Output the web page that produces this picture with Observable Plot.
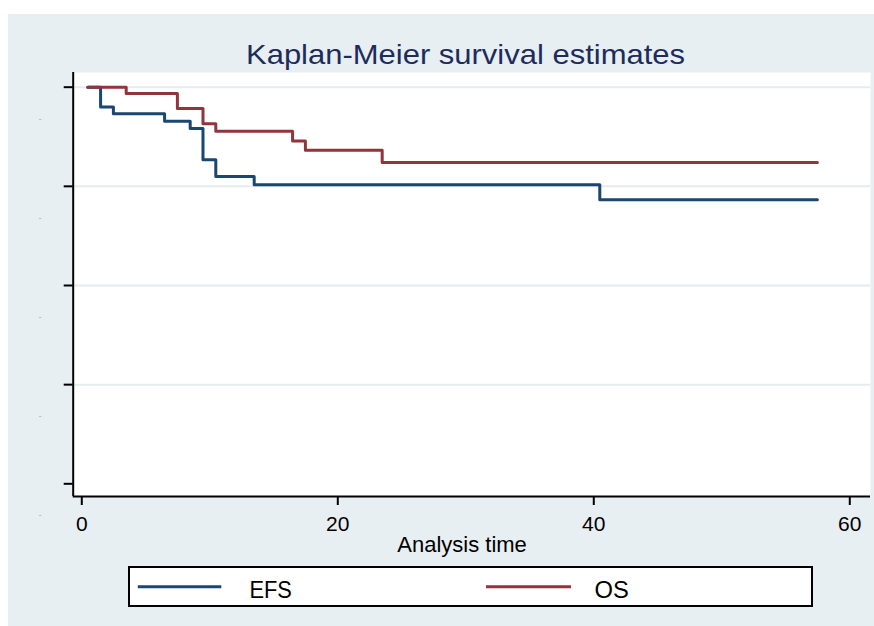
<!DOCTYPE html>
<html>
<head>
<meta charset="utf-8">
<script src="https://cdn.jsdelivr.net/npm/d3@7"></script>
<script src="https://cdn.jsdelivr.net/npm/@observablehq/plot@0.6"></script>
<style>
  html, body { margin: 0; padding: 0; background: #ffffff; }
  #wrap { position: relative; width: 874px; height: 626px; background: #ffffff; overflow: hidden; font-family: "Liberation Sans", Arial, sans-serif; }
  #bg { position: absolute; left: 8px; top: 14px; width: 866px; height: 612px; background: #e8eff2; }
  #chart, #overlay { position: absolute; left: 0; top: 0; }
  #overlay { pointer-events: none; }
</style>
</head>
<body>
<div id="wrap">
  <div id="bg"></div>
  <div id="chart"></div>
  <svg id="overlay" width="874" height="626"></svg>
</div>
<script>
// ---- data ----
const efsTime = [0, 1, 2, 6, 8, 9, 10, 13, 40, 57];
const efsSurv = [1, 0.950, 0.933, 0.914, 0.896, 0.817, 0.775, 0.754, 0.716, 0.716];
const osTime  = [0, 3, 7, 9, 10, 16, 17, 23, 57];
const osSurv  = [1, 0.984, 0.946, 0.908, 0.889, 0.864, 0.841, 0.810, 0.810];
const xTicks = [0, 20, 40, 60];
const yTicks = [0, 0.25, 0.5, 0.75, 1];
const seriesNames = ["EFS", "OS"];
const seriesColors = ["#1a476f", "#90353b"];
const titleText = "Kaplan-Meier survival estimates";
const xLabel = "Analysis time";

const efs = efsTime.map((t, i) => ({t, s: efsSurv[i], series: "EFS"}));
const os = osTime.map((t, i) => ({t, s: osSurv[i], series: "OS"}));

const xDomain = [-1.14, 61.15];
const yDomain = [-0.032, 1.037];

const plot = Plot.plot({
  width: 874,
  height: 626,
  marginLeft: 72.7,
  marginRight: 4,
  marginTop: 72,
  marginBottom: 130,
  style: {background: "transparent", fontFamily: "'Liberation Sans', Arial, sans-serif", color: "#000"},
  x: {domain: xDomain, ticks: xTicks},
  y: {domain: yDomain, ticks: yTicks},
  marks: [
    Plot.frame({fill: "#ffffff", stroke: "none"}),
    Plot.ruleY(yTicks.filter(d => d > 0), {stroke: "#e4ecef", strokeWidth: 2}),
    Plot.line(efs, {x: "t", y: "s", curve: "step-after", stroke: seriesColors[0], strokeWidth: 3}),
    Plot.line(os, {x: "t", y: "s", curve: "step-after", stroke: seriesColors[1], strokeWidth: 3}),
    Plot.ruleX([xDomain[0]], {stroke: "#000", strokeWidth: 2}),
    Plot.ruleY([yDomain[0]], {stroke: "#000", strokeWidth: 2}),
    Plot.axisX({ticks: xTicks, tickSize: 9, tickPadding: 11, strokeWidth: 2, stroke: "#000",
                fontSize: 21, dx: -6, label: null, tickFormat: d => String(d), fill: "#000"}),
    // y tick marks (no labels)
    Plot.axisY({ticks: yTicks, tickSize: 9, strokeWidth: 2, stroke: "#000",
                label: null, tickFormat: () => ""}),
    // y tick labels, rendered as small grey dashes offset below each tick as in the reference
    Plot.axisY({ticks: yTicks, tickSize: 0, tickPadding: 31.7, fontSize: 8, dy: 31,
                label: null, tickFormat: () => "-", fill: "#999"}),
    Plot.text([xLabel], {frameAnchor: "bottom", lineAnchor: "bottom", dy: 55, dx: -9.8,
                text: d => d, fontSize: 22, fill: "#000"})
  ]
});
document.getElementById("chart").appendChild(plot);

// ---- title and legend ----
const ov = d3.select("#overlay").style("font-family", "'Liberation Sans', Arial, sans-serif");
ov.append("text")
  .attr("x", 246).attr("y", 64)
  .attr("font-size", 28)
  .attr("fill", "#1d2c5c")
  .attr("textLength", 439).attr("lengthAdjust", "spacingAndGlyphs")
  .text(titleText);

ov.append("rect")
  .attr("x", 129).attr("y", 567).attr("width", 683).attr("height", 39)
  .attr("fill", "#ffffff").attr("stroke", "#000").attr("stroke-width", 2);

const legendItems = [
  {name: seriesNames[0], color: seriesColors[0], x1: 137.8, x2: 221.3, tx: 249.5, tl: 42.4},
  {name: seriesNames[1], color: seriesColors[1], x1: 486, x2: 571, tx: 594.6, tl: 34.3}
];
legendItems.forEach(it => {
  ov.append("line").attr("x1", it.x1).attr("x2", it.x2).attr("y1", 586.7).attr("y2", 586.7)
    .attr("stroke", it.color).attr("stroke-width", 3);
  ov.append("text").attr("x", it.tx).attr("y", 597.5).attr("font-size", 23).attr("fill", "#000")
    .attr("textLength", it.tl).attr("lengthAdjust", "spacingAndGlyphs").text(it.name);
});
</script>
</body>
</html>
